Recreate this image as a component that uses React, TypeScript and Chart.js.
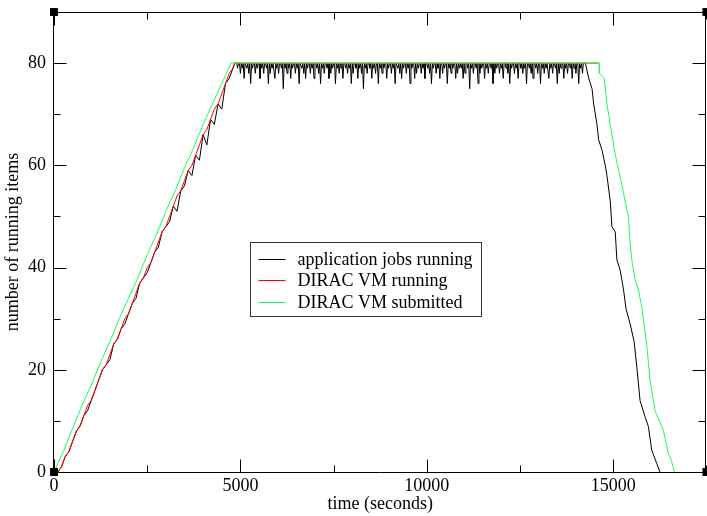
import { useEffect, useRef } from "react";
import { Chart, registerables } from "chart.js";

Chart.register(...registerables);

// ---------------- data ----------------
const SERIES_LABELS = ["application jobs running", "DIRAC VM running", "DIRAC VM submitted"];
const SERIES_COLORS = ["#000000", "#ff0000", "#1aff5a"];
const X_TITLE = "time (seconds)";
const Y_TITLE = "number of running items";

const X_MAX = 17500;
const Y_MAX = 90;
const X_TICKS = [0, 5000, 10000, 15000];
const X_MINOR_TICKS = [2500, 7500, 12500, 17500];
const Y_TICKS = [0, 20, 40, 60, 80];
const Y_MINOR_TICKS = [10, 30, 50, 70];

// ramp-up phase, sampled every 100 s
const rampTimes = [
  0, 100, 200, 300, 400, 500, 600, 700, 800, 900, 1000, 1100, 1200, 1300, 1400, 1500,
  1600, 1700, 1800, 1900, 2000, 2100, 2200, 2300, 2400, 2500, 2600, 2700, 2800, 2900,
  3000, 3100, 3200, 3300, 3400, 3500, 3600, 3700, 3800, 3900, 4000, 4100, 4200, 4300,
  4400, 4500, 4600, 4700, 4800,
];
const vmRunningRamp = [
  0, 0, 1, 3, 4, 6, 8, 9, 11, 13, 14, 16, 18, 20, 21, 23, 25, 26, 28, 30, 31, 33, 35, 37,
  38, 40, 41, 43, 45, 47, 48, 50, 52, 54, 55, 57, 59, 60, 62, 64, 66, 67, 69, 71, 72, 74,
  76, 78, 79,
];
const jobsRamp = [
  0, 0, 1, 3, 4, 6, 8, 9, 11, 12, 14, 16, 18, 20, 21, 22, 25, 26, 28, 29, 31, 33, 34, 37,
  38, 39, 41, 43, 44, 47, 48, 49, 52, 51, 55, 56, 59, 58, 62, 61, 66, 64, 69, 68, 72, 71,
  76, 77, 79,
];
const RAMP_TOP_TIME = 4850;
const RAMP_TOP_VALUE = 80;

// plateau of running jobs, sampled every 25 s from 4900 s
const PLATEAU_START = 4900;
const PLATEAU_STEP = 25;
const jobsPlateau = [
  80, 79, 80, 80, 78, 80, 79, 80, 77, 80, 80, 79, 80, 78, 80, 76, 80, 79, 80, 80,
  78, 80, 79, 80, 80, 77, 80, 79, 80, 78, 80, 80, 79, 80, 76, 80, 78, 80, 79, 80,
  80, 77, 80, 79, 80, 78, 80, 80, 79, 80, 75, 80, 79, 80, 78, 80, 79, 80, 77, 80,
  79, 80, 80, 78, 80, 79, 80, 76, 80, 80, 79, 80, 78, 80, 77, 80, 79, 80, 80, 78,
  80, 79, 80, 77, 80, 80, 79, 80, 78, 80, 76, 80, 79, 80, 78, 80, 80, 79, 80, 77,
  80, 78, 80, 79, 80, 80, 76, 80, 79, 80, 78, 80, 79, 80, 77, 80, 80, 79, 80, 78,
  80, 79, 80, 76, 80, 78, 80, 80, 79, 80, 77, 80, 79, 80, 78, 80, 75, 80, 79, 80,
  78, 80, 80, 79, 80, 77, 80, 79, 80, 78, 80, 80, 76, 80, 79, 80, 78, 80, 79, 80,
  80, 77, 80, 79, 80, 80, 78, 80, 79, 80, 76, 80, 80, 79, 80, 78, 80, 77, 80, 79,
  80, 80, 78, 80, 79, 80, 76, 80, 79, 80, 80, 77, 80, 78, 80, 79, 80, 80, 78, 80,
  79, 80, 77, 80, 80, 79, 80, 78, 80, 76, 80, 79, 80, 80, 78, 80, 79, 80, 77, 80,
  80, 78, 80, 79, 80, 80, 76, 80, 79, 80, 78, 80, 79, 80, 80, 77, 80, 78, 80, 79,
  80, 79, 80, 77, 80, 78, 80, 80, 79, 80, 75, 80, 79, 80, 78, 80, 80, 79, 80, 76,
  80, 78, 80, 79, 80, 80, 77, 80, 79, 80, 78, 80, 80, 79, 80, 76, 80, 78, 80, 79,
  80, 80, 78, 80, 79, 80, 77, 80, 80, 79, 80, 78, 80, 76, 80, 79, 80, 80, 78, 80,
  79, 80, 77, 80, 80, 79, 80, 78, 80, 79, 80, 76, 80, 80, 79, 80, 78, 80, 77, 80,
  80, 79, 80, 78, 80, 80, 76, 80, 79, 80, 78, 80, 79, 80, 80, 77, 80, 79, 80, 78,
  80, 80, 79, 80, 76, 80, 78, 80, 79, 80, 80, 77, 80, 79, 80, 78, 80, 80, 79, 80,
  77, 80, 79, 80, 78, 80, 80, 76, 80, 79, 80, 78, 80,
];

// ramp-down of running jobs
const jobsTailTimes = [
  14254, 14343, 14432, 14477, 14565, 14610, 14699, 14787, 14832, 14921, 14966, 15054,
  15099, 15187, 15278, 15347, 15454, 15561, 15633, 15720, 15854, 15944, 16032, 16166, 16254,
];
const jobsTailValues = [
  80, 77, 75, 72, 68, 65, 63, 60, 58, 53, 48, 47, 41.5, 39.5, 35.6, 31.8, 29, 25.5, 20.6,
  14, 10.8, 8.9, 4.3, 1.7, 0,
];

// running VMs stay at the maximum until the end of the plateau
const VM_RUNNING_END_TIME = 14600;

// submitted VMs
const submittedTimes = [
  0, 250, 500, 750, 1000, 1250, 1500, 1750, 2000, 2250, 2500, 2750, 3000, 3250, 3500,
  3750, 4000, 4250, 4500, 4750,
  14627, 14628, 14761, 14832, 14921, 15010, 15099, 15187, 15278, 15366, 15411, 15454,
  15499, 15587, 15678, 15765, 15899, 15988, 16121, 16344, 16477, 16560, 16638,
];
const submittedValues = [
  0, 4, 8.5, 13, 17, 21.5, 25.5, 30, 34, 38, 42.5, 46.5, 51, 55, 59.5, 63.5, 68, 72, 76, 80,
  80, 78, 77, 72, 68, 64, 60.5, 57.7, 54.5, 51.3, 50, 44.7, 41.5, 37.6, 35.6, 32.3, 25,
  18, 12, 8.2, 3.7, 2.3, 0,
];

// corner markers
const cornerTimes = [0, 0, 17500, 17500];
const cornerValues = [0, 90, 0, 90];

// ---------------- helpers ----------------
type Pt = { x: number; y: number };
const zip = (ts: number[], vs: number[]): Pt[] => ts.map((t, i) => ({ x: t, y: vs[i] }));

function buildJobs(): Pt[] {
  const pts = zip(rampTimes, jobsRamp);
  pts.push({ x: RAMP_TOP_TIME, y: RAMP_TOP_VALUE });
  jobsPlateau.forEach((v, i) => pts.push({ x: PLATEAU_START + i * PLATEAU_STEP, y: v }));
  return pts.concat(zip(jobsTailTimes, jobsTailValues));
}
function buildVmRunning(): Pt[] {
  const pts = zip(rampTimes, vmRunningRamp);
  pts.push({ x: RAMP_TOP_TIME, y: RAMP_TOP_VALUE });
  pts.push({ x: VM_RUNNING_END_TIME, y: RAMP_TOP_VALUE });
  return pts;
}

const FONT_FAMILY = '"Liberation Serif", "Times New Roman", serif';

const framePlugin = {
  id: "graceFrame",
  afterDatasetsDraw(chart: any) {
    const { ctx, chartArea } = chart;
    const xs = chart.scales.x;
    const ys = chart.scales.y;
    const L = Math.round(chartArea.left) - 0.5;
    const R = Math.round(chartArea.right) - 0.5;
    const T = Math.round(chartArea.top) + 0.5;
    const B = Math.round(chartArea.bottom) + 0.5;
    ctx.save();
    ctx.strokeStyle = "#000";
    ctx.lineWidth = 1;
    ctx.beginPath();
    ctx.rect(L, T, R - L, B - T);
    ctx.stroke();
    const MAJ = 13;
    const MIN = 7;
    ctx.beginPath();
    const xTick = (v: number, len: number) => {
      const px = Math.round(xs.getPixelForValue(v)) + 0.5;
      ctx.moveTo(px, B);
      ctx.lineTo(px, B - len);
      ctx.moveTo(px, T);
      ctx.lineTo(px, T + len);
    };
    const yTick = (v: number, len: number) => {
      const py = Math.round(ys.getPixelForValue(v)) + 0.5;
      ctx.moveTo(L, py);
      ctx.lineTo(L + len, py);
      ctx.moveTo(R, py);
      ctx.lineTo(R - len, py);
    };
    X_TICKS.forEach((v) => xTick(v, MAJ));
    X_MINOR_TICKS.forEach((v) => xTick(v, MIN));
    Y_TICKS.forEach((v) => yTick(v, MAJ));
    Y_MINOR_TICKS.forEach((v) => yTick(v, MIN));
    ctx.stroke();
    ctx.restore();
  },
};

const legendPlugin = {
  id: "boxLegend",
  afterDraw(chart: any) {
    const { ctx, chartArea } = chart;
    const bx = Math.round(chartArea.left + 196) + 0.5;
    const by = Math.round(chartArea.top + 230) + 0.5;
    const bw = 231;
    const bh = 74;
    ctx.save();
    ctx.fillStyle = "#fff";
    ctx.fillRect(bx, by, bw, bh);
    ctx.strokeStyle = "#333";
    ctx.lineWidth = 1;
    ctx.strokeRect(bx, by, bw, bh);
    ctx.font = `18px ${FONT_FAMILY}`;
    ctx.textBaseline = "middle";
    ctx.textAlign = "left";
    const rows = [16, 37.5, 59];
    SERIES_LABELS.forEach((label, i) => {
      const yy = Math.round(by + rows[i]) + 0.5;
      ctx.strokeStyle = SERIES_COLORS[i];
      ctx.lineWidth = 1;
      ctx.beginPath();
      ctx.moveTo(bx + 8, yy);
      ctx.lineTo(bx + 35, yy);
      ctx.stroke();
      ctx.fillStyle = "#000";
      ctx.fillText(label, bx + 47, yy + 1);
    });
    ctx.restore();
  },
};

export default function App() {
  const canvasRef = useRef<HTMLCanvasElement | null>(null);

  useEffect(() => {
    document.body.style.margin = "0";
    document.body.style.overflow = "hidden";
    const canvas = canvasRef.current;
    if (!canvas) return;
    const tickFont = { family: FONT_FAMILY, size: 18 };
    const chart = new Chart(canvas, {
      type: "line",
      data: {
        datasets: [
          {
            label: SERIES_LABELS[0],
            data: buildJobs(),
            borderColor: SERIES_COLORS[0],
            borderWidth: 1,
            pointRadius: 0,
            order: 3,
          },
          {
            label: SERIES_LABELS[1],
            data: buildVmRunning(),
            borderColor: SERIES_COLORS[1],
            borderWidth: 1,
            pointRadius: 0,
            order: 2,
          },
          {
            label: SERIES_LABELS[2],
            data: zip(submittedTimes, submittedValues),
            borderColor: SERIES_COLORS[2],
            borderWidth: 1,
            pointRadius: 0,
            order: 1,
          },
          {
            label: "corners",
            data: zip(cornerTimes, cornerValues),
            showLine: false,
            pointStyle: "rect",
            pointRadius: 5.6,
            backgroundColor: "#000",
            borderColor: "#000",
            borderWidth: 0,
            clip: false,
            order: 0,
          } as any,
        ],
      },
      options: {
        responsive: false,
        maintainAspectRatio: false,
        animation: false,
        layout: { padding: { top: 12, right: 2, left: 0, bottom: 0 } },
        plugins: { legend: { display: false }, tooltip: { enabled: false } },
        elements: { line: { tension: 0, borderWidth: 1 }, point: { radius: 0 } },
        scales: {
          x: {
            type: "linear",
            min: 0,
            max: X_MAX,
            afterBuildTicks: (s: any) => {
              s.ticks = X_TICKS.map((v) => ({ value: v }));
            },
            afterFit: (s: any) => {
              s.height = 44;
              s.paddingLeft = 0;
              s.paddingRight = 0;
            },
            ticks: {
              autoSkip: false,
              maxRotation: 0,
              padding: 3,
              color: "#000",
              font: tickFont,
              callback: (v: any) => String(v),
            },
            grid: { display: false, drawTicks: false },
            border: { display: false },
            title: {
              display: true,
              text: X_TITLE,
              color: "#000",
              font: tickFont,
              padding: { top: 0, bottom: 1 },
            },
          },
          y: {
            type: "linear",
            min: 0,
            max: Y_MAX,
            afterBuildTicks: (s: any) => {
              s.ticks = Y_TICKS.map((v) => ({ value: v }));
            },
            afterFit: (s: any) => {
              s.width = 54;
              s.paddingTop = 0;
              s.paddingBottom = 0;
            },
            ticks: {
              autoSkip: false,
              padding: 8,
              color: "#000",
              font: tickFont,
              callback: (v: any) => String(v),
            },
            grid: { display: false, drawTicks: false },
            border: { display: false },
            title: {
              display: true,
              text: Y_TITLE,
              color: "#000",
              font: tickFont,
              padding: { top: 2, bottom: 0 },
            },
          },
        },
      } as any,
      plugins: [framePlugin, legendPlugin],
    });
    return () => chart.destroy();
  }, []);

  return (
    <div style={{ width: 707, height: 516, overflow: "hidden", position: "relative" }}>
      <canvas ref={canvasRef} width={712} height={516} style={{ display: "block" }} />
    </div>
  );
}
